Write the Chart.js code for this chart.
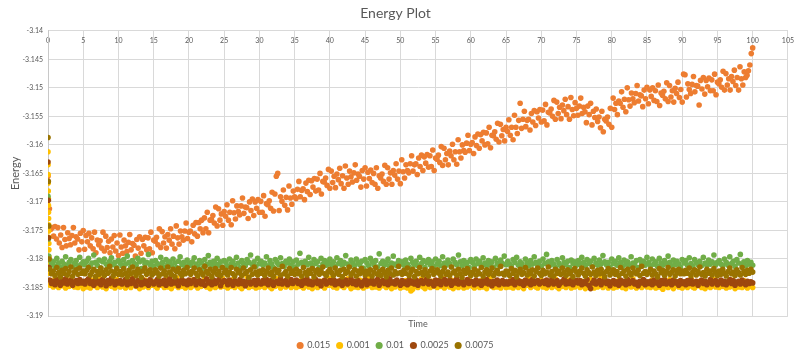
<!DOCTYPE html>
<html>
<head>
<meta charset="utf-8">
<script src="https://cdn.jsdelivr.net/npm/chart.js@4/dist/chart.umd.min.js"></script>
<style>
html,body{margin:0;padding:0;background:#fff;}
canvas{display:block;}
</style>
</head>
<body>
<canvas id="c" width="800" height="355"></canvas>
<script>
// ---- data ----
const seriesNames = ['0.015', '0.001', '0.01', '0.0025', '0.0075'];
const xTicks = { min: 0, max: 105, step: 5 };
const yTicks = { min: -3.19, max: -3.14, step: 0.005 };

// 0.015 series: first point at t=0, then every 0.2 time units
const orangeHeadTimes = [0];
const orangeHead = [-3.1655];
const orangeStep = 0.2;
const orangeValues = [
-3.1712,-3.1748,-3.1745,-3.1760,-3.1743, -3.1765,-3.1745,-3.1772,-3.1758,-3.1780, -3.1745,-3.1766,-3.1777,-3.1754,-3.1764, -3.1775,-3.1759,-3.1745,-3.1772,-3.1761, -3.1765,-3.1784,-3.1755,-3.1770,-3.1750,
-3.1783,-3.1759,-3.1770,-3.1755,-3.1777, -3.1763,-3.1782,-3.1753,-3.1789,-3.1767, -3.1775,-3.1768,-3.1781,-3.1753,-3.1786, -3.1760,-3.1780,-3.1769,-3.1789,-3.1765, -3.1779,-3.1759,-3.1786,-3.1772,-3.1794,
-3.1758,-3.1779,-3.1790,-3.1767,-3.1777, -3.1787,-3.1771,-3.1757,-3.1784,-3.1773, -3.1776,-3.1795,-3.1766,-3.1781,-3.1761, -3.1790,-3.1766,-3.1777,-3.1762,-3.1784, -3.1763,-3.1782,-3.1753,-3.1789,-3.1767,
-3.1769,-3.1762,-3.1775,-3.1747,-3.1780, -3.1752,-3.1772,-3.1761,-3.1781,-3.1757, -3.1767,-3.1747,-3.1774,-3.1760,-3.1782, -3.1742,-3.1763,-3.1774,-3.1751,-3.1761, -3.1767,-3.1751,-3.1737,-3.1764,-3.1753,
-3.1751,-3.1770,-3.1741,-3.1756,-3.1736, -3.1760,-3.1736,-3.1747,-3.1732,-3.1754, -3.1728,-3.1747,-3.1718,-3.1754,-3.1732, -3.1731,-3.1724,-3.1737,-3.1709,-3.1742, -3.1712,-3.1732,-3.1721,-3.1741,-3.1717,
-3.1725,-3.1705,-3.1732,-3.1718,-3.1740, -3.1698,-3.1719,-3.1730,-3.1707,-3.1717, -3.1723,-3.1707,-3.1693,-3.1720,-3.1709, -3.1710,-3.1729,-3.1700,-3.1715,-3.1695, -3.1724,-3.1700,-3.1711,-3.1696,-3.1718,
-3.1699,-3.1718,-3.1689,-3.1725,-3.1703, -3.1705,-3.1698,-3.1711,-3.1683,-3.1716, -3.1686,-3.1655,-3.1650,-3.1715,-3.1691, -3.1699,-3.1679,-3.1706,-3.1692,-3.1714, -3.1672,-3.1693,-3.1704,-3.1681,-3.1691,
-3.1694,-3.1678,-3.1664,-3.1691,-3.1680, -3.1677,-3.1696,-3.1667,-3.1682,-3.1662, -3.1687,-3.1663,-3.1674,-3.1659,-3.1681, -3.1660,-3.1679,-3.1650,-3.1686,-3.1664, -3.1665,-3.1658,-3.1671,-3.1643,-3.1676,
-3.1646,-3.1666,-3.1655,-3.1675,-3.1651, -3.1661,-3.1641,-3.1668,-3.1654,-3.1676, -3.1637,-3.1658,-3.1669,-3.1646,-3.1656, -3.1665,-3.1649,-3.1635,-3.1662,-3.1651, -3.1655,-3.1674,-3.1645,-3.1660,-3.1640,
-3.1672,-3.1648,-3.1659,-3.1644,-3.1666, -3.1650,-3.1669,-3.1640,-3.1676,-3.1654, -3.1658,-3.1651,-3.1664,-3.1636,-3.1669, -3.1640,-3.1660,-3.1649,-3.1669,-3.1645, -3.1653,-3.1633,-3.1660,-3.1646,-3.1668,
-3.1626,-3.1647,-3.1658,-3.1635,-3.1645, -3.1649,-3.1633,-3.1619,-3.1646,-3.1635, -3.1633,-3.1652,-3.1623,-3.1638,-3.1618, -3.1645,-3.1621,-3.1632,-3.1617,-3.1639, -3.1619,-3.1638,-3.1609,-3.1645,-3.1623,
-3.1625,-3.1618,-3.1631,-3.1603,-3.1636, -3.1606,-3.1626,-3.1615,-3.1635,-3.1611, -3.1619,-3.1599,-3.1626,-3.1612,-3.1634, -3.1591,-3.1612,-3.1623,-3.1600,-3.1610, -3.1613,-3.1597,-3.1583,-3.1610,-3.1599,
-3.1596,-3.1615,-3.1586,-3.1601,-3.1581, -3.1606,-3.1582,-3.1593,-3.1578,-3.1600, -3.1579,-3.1598,-3.1569,-3.1605,-3.1583, -3.1584,-3.1577,-3.1590,-3.1562,-3.1595, -3.1564,-3.1584,-3.1573,-3.1593,-3.1569,
-3.1576,-3.1556,-3.1583,-3.1569,-3.1591, -3.1548,-3.1569,-3.1580,-3.1557,-3.1527, -3.1571,-3.1555,-3.1541,-3.1568,-3.1557, -3.1555,-3.1574,-3.1545,-3.1560,-3.1540, -3.1566,-3.1542,-3.1553,-3.1538,-3.1560,
-3.1539,-3.1558,-3.1529,-3.1565,-3.1543, -3.1544,-3.1537,-3.1550,-3.1522,-3.1555, -3.1525,-3.1545,-3.1534,-3.1554,-3.1530, -3.1540,-3.1520,-3.1547,-3.1533,-3.1555, -3.1517,-3.1538,-3.1549,-3.1526,-3.1536,
-3.1548,-3.1532,-3.1518,-3.1545,-3.1534, -3.1542,-3.1561,-3.1532,-3.1547,-3.1527, -3.1565,-3.1541,-3.1552,-3.1537,-3.1559, -3.1551,-3.1570,-3.1541,-3.1577,-3.1555, -3.1558,-3.1551,-3.1564,-3.1536,-3.1569,
-3.1518,-3.1538,-3.1527,-3.1547,-3.1523, -3.1527,-3.1507,-3.1534,-3.1520,-3.1542, -3.1500,-3.1521,-3.1532,-3.1509,-3.1519, -3.1526,-3.1510,-3.1496,-3.1523,-3.1512, -3.1514,-3.1533,-3.1504,-3.1519,-3.1499,
-3.1528,-3.1504,-3.1515,-3.1500,-3.1522, -3.1505,-3.1524,-3.1495,-3.1531,-3.1509, -3.1513,-3.1506,-3.1519,-3.1491,-3.1524, -3.1496,-3.1516,-3.1505,-3.1525,-3.1501, -3.1510,-3.1490,-3.1517,-3.1503,-3.1525,
-3.1476,-3.1477,-3.1516,-3.1493,-3.1503, -3.1510,-3.1494,-3.1480,-3.1507,-3.1496, -3.1497,-3.1530,-3.1487,-3.1502,-3.1482, -3.1511,-3.1487,-3.1498,-3.1483,-3.1505, -3.1486,-3.1505,-3.1476,-3.1512,-3.1490,
-3.1493,-3.1486,-3.1499,-3.1471,-3.1504, -3.1475,-3.1495,-3.1484,-3.1504,-3.1480, -3.1489,-3.1469,-3.1496,-3.1482,-3.1504, -3.1463,-3.1484,-3.1495,-3.1472,-3.1482, -3.1478,-3.1470,-3.1460,-3.1440,-3.1430
];

// dense series: start-up points near t=0, then every 0.25 time units
const bandStep = 0.25;

const goldHeadTimes = [0,0.01,0.02,0.03,0.04,0.05,0.06,0.07,0.08,0.09,0.1,0.11,0.12,0.13,0.14,0.15,0.16];
const goldHead = [-3.1612,-3.1635,-3.1652,-3.1667,-3.1681,-3.1694,-3.1706,-3.1718,-3.1729,-3.1740,-3.1751,-3.1762,-3.1773,-3.1784,-3.1796,-3.1810,-3.1825];
const goldValues = [
-3.1846,-3.1840,-3.1849,-3.1835,-3.1844,-3.1850,-3.1841,-3.1847,-3.1838,-3.1851,-3.1843,-3.1848,-3.1836,-3.1845,-3.1849,-3.1842,-3.1850,-3.1839,-3.1846,-3.1852,
-3.1844,-3.1849,-3.1841,-3.1851,-3.1837,-3.1847,-3.1843,-3.1850,-3.1832,-3.1846,-3.1849,-3.1840,-3.1852,-3.1845,-3.1838,-3.1848,-3.1843,-3.1851,-3.1836,-3.1847,
-3.1849,-3.1842,-3.1847,-3.1851,-3.1839,-3.1846,-3.1850,-3.1834,-3.1845,-3.1848,-3.1841,-3.1852,-3.1844,-3.1849,-3.1837,-3.1847,-3.1850,-3.1843,-3.1846,-3.1840,
-3.1848,-3.1851,-3.1838,-3.1846,-3.1843,-3.1850,-3.1836,-3.1849,-3.1845,-3.1852,-3.1841,-3.1847,-3.1833,-3.1850,-3.1844,-3.1848,-3.1839,-3.1851,-3.1846,-3.1842,
-3.1850,-3.1837,-3.1847,-3.1844,-3.1851,-3.1840,-3.1848,-3.1846,-3.1835,-3.1849,-3.1843,-3.1852,-3.1838,-3.1847,-3.1850,-3.1845,-3.1841,-3.1849,-3.1834,-3.1848,
-3.1845,-3.1851,-3.1842,-3.1848,-3.1836,-3.1850,-3.1846,-3.1839,-3.1849,-3.1852,-3.1843,-3.1847,-3.1831,-3.1850,-3.1845,-3.1848,-3.1840,-3.1851,-3.1844,-3.1849,
-3.1847,-3.1841,-3.1850,-3.1845,-3.1838,-3.1849,-3.1852,-3.1843,-3.1848,-3.1835,-3.1846,-3.1851,-3.1840,-3.1847,-3.1849,-3.1833,-3.1845,-3.1850,-3.1842,-3.1848,
-3.1850,-3.1844,-3.1848,-3.1837,-3.1851,-3.1846,-3.1840,-3.1849,-3.1843,-3.1852,-3.1836,-3.1847,-3.1850,-3.1845,-3.1839,-3.1848,-3.1851,-3.1842,-3.1846,-3.1834,
-3.1846,-3.1849,-3.1841,-3.1851,-3.1845,-3.1838,-3.1848,-3.1850,-3.1843,-3.1835,-3.1847,-3.1852,-3.1840,-3.1849,-3.1844,-3.1850,-3.1837,-3.1846,-3.1851,-3.1842,
-3.1848,-3.1833,-3.1846,-3.1850,-3.1842,-3.1849,-3.1845,-3.1851,-3.1839,-3.1847,-3.1843,-3.1850,-3.1836,-3.1848,-3.1852,-3.1844,-3.1849,-3.1840,-3.1846,-3.1851,
-3.1843,-3.1849,-3.1838,-3.1851,-3.1846,-3.1856,-3.1853,-3.1848,-3.1841,-3.1850,-3.1845,-3.1835,-3.1849,-3.1852,-3.1843,-3.1847,-3.1850,-3.1839,-3.1848,-3.1844,
-3.1850,-3.1845,-3.1848,-3.1834,-3.1851,-3.1846,-3.1842,-3.1849,-3.1837,-3.1852,-3.1844,-3.1848,-3.1850,-3.1840,-3.1847,-3.1851,-3.1843,-3.1849,-3.1836,-3.1846,
-3.1848,-3.1851,-3.1841,-3.1847,-3.1850,-3.1838,-3.1849,-3.1845,-3.1852,-3.1843,-3.1832,-3.1848,-3.1850,-3.1844,-3.1849,-3.1840,-3.1851,-3.1846,-3.1842,-3.1850,
-3.1845,-3.1849,-3.1836,-3.1851,-3.1847,-3.1843,-3.1850,-3.1839,-3.1848,-3.1852,-3.1844,-3.1846,-3.1834,-3.1850,-3.1847,-3.1841,-3.1849,-3.1851,-3.1845,-3.1838,
-3.1849,-3.1843,-3.1851,-3.1846,-3.1840,-3.1850,-3.1847,-3.1835,-3.1849,-3.1852,-3.1844,-3.1848,-3.1841,-3.1850,-3.1846,-3.1837,-3.1851,-3.1845,-3.1849,-3.1843,
-3.1846,-3.1850,-3.1839,-3.1848,-3.1852,-3.1844,-3.1849,-3.1836,-3.1847,-3.1851,-3.1842,-3.1849,-3.1845,-3.1833,-3.1850,-3.1847,-3.1843,-3.1851,-3.1840,-3.1848,
-3.1851,-3.1845,-3.1849,-3.1838,-3.1847,-3.1850,-3.1843,-3.1852,-3.1846,-3.1840,-3.1849,-3.1835,-3.1848,-3.1851,-3.1844,-3.1847,-3.1850,-3.1839,-3.1846,-3.1849,
-3.1844,-3.1850,-3.1837,-3.1848,-3.1851,-3.1845,-3.1849,-3.1841,-3.1853,-3.1847,-3.1843,-3.1850,-3.1836,-3.1848,-3.1852,-3.1845,-3.1840,-3.1849,-3.1846,-3.1851,
-3.1848,-3.1842,-3.1850,-3.1846,-3.1834,-3.1849,-3.1851,-3.1844,-3.1847,-3.1839,-3.1850,-3.1845,-3.1852,-3.1841,-3.1848,-3.1850,-3.1843,-3.1836,-3.1849,-3.1846,
-3.1850,-3.1844,-3.1848,-3.1840,-3.1851,-3.1846,-3.1849,-3.1837,-3.1847,-3.1852,-3.1843,-3.1849,-3.1845,-3.1850,-3.1838,-3.1848,-3.1851,-3.1844,-3.1847,-3.1850
];

const greenHeadTimes = [0, 0.05, 0.1];
const greenHead = [-3.1690, -3.1765, -3.1795];
const greenValues = [
-3.1802,-3.1810,-3.1805,-3.1813,-3.1799,-3.1807,-3.1815,-3.1804,-3.1809,-3.1796,-3.1811,-3.1806,-3.1801,-3.1814,-3.1808,-3.1803,-3.1812,-3.1797,-3.1809,-3.1805,
-3.1810,-3.1804,-3.1799,-3.1812,-3.1807,-3.1793,-3.1806,-3.1811,-3.1802,-3.1816,-3.1805,-3.1800,-3.1809,-3.1813,-3.1804,-3.1798,-3.1810,-3.1806,-3.1815,-3.1803,
-3.1807,-3.1812,-3.1801,-3.1809,-3.1795,-3.1806,-3.1814,-3.1803,-3.1808,-3.1811,-3.1799,-3.1805,-3.1817,-3.1802,-3.1809,-3.1806,-3.1792,-3.1810,-3.1804,-3.1813,
-3.1803,-3.1808,-3.1811,-3.1797,-3.1806,-3.1814,-3.1801,-3.1809,-3.1805,-3.1812,-3.1800,-3.1807,-3.1815,-3.1804,-3.1796,-3.1810,-3.1806,-3.1813,-3.1802,-3.1808,
-3.1811,-3.1805,-3.1798,-3.1809,-3.1813,-3.1803,-3.1807,-3.1816,-3.1801,-3.1810,-3.1794,-3.1806,-3.1812,-3.1804,-3.1808,-3.1799,-3.1811,-3.1805,-3.1814,-3.1803,
-3.1806,-3.1813,-3.1800,-3.1809,-3.1804,-3.1811,-3.1797,-3.1807,-3.1815,-3.1803,-3.1808,-3.1812,-3.1801,-3.1806,-3.1793,-3.1810,-3.1805,-3.1813,-3.1799,-3.1808,
-3.1804,-3.1811,-3.1807,-3.1796,-3.1812,-3.1803,-3.1809,-3.1815,-3.1801,-3.1806,-3.1810,-3.1798,-3.1808,-3.1813,-3.1804,-3.1807,-3.1800,-3.1811,-3.1805,-3.1814,
-3.1802,-3.1809,-3.1790,-3.1806,-3.1812,-3.1804,-3.1810,-3.1797,-3.1807,-3.1813,-3.1801,-3.1808,-3.1805,-3.1815,-3.1799,-3.1809,-3.1803,-3.1811,-3.1806,-3.1800,
-3.1810,-3.1805,-3.1813,-3.1798,-3.1808,-3.1803,-3.1811,-3.1806,-3.1794,-3.1809,-3.1814,-3.1802,-3.1807,-3.1812,-3.1800,-3.1806,-3.1810,-3.1804,-3.1816,-3.1801,
-3.1807,-3.1812,-3.1799,-3.1805,-3.1810,-3.1803,-3.1814,-3.1791,-3.1808,-3.1804,-3.1811,-3.1806,-3.1800,-3.1813,-3.1807,-3.1795,-3.1809,-3.1812,-3.1803,-3.1808,
-3.1805,-3.1811,-3.1802,-3.1809,-3.1814,-3.1799,-3.1806,-3.1810,-3.1804,-3.1812,-3.1797,-3.1808,-3.1803,-3.1815,-3.1806,-3.1801,-3.1810,-3.1805,-3.1813,-3.1800,
-3.1809,-3.1804,-3.1812,-3.1796,-3.1807,-3.1811,-3.1802,-3.1808,-3.1814,-3.1800,-3.1806,-3.1810,-3.1793,-3.1805,-3.1812,-3.1803,-3.1809,-3.1806,-3.1815,-3.1801,
-3.1806,-3.1813,-3.1800,-3.1808,-3.1804,-3.1811,-3.1798,-3.1807,-3.1812,-3.1803,-3.1809,-3.1805,-3.1814,-3.1799,-3.1807,-3.1811,-3.1802,-3.1808,-3.1795,-3.1810,
-3.1804,-3.1809,-3.1813,-3.1801,-3.1806,-3.1797,-3.1811,-3.1805,-3.1808,-3.1814,-3.1800,-3.1807,-3.1812,-3.1803,-3.1809,-3.1796,-3.1806,-3.1811,-3.1804,-3.1813,
-3.1800,-3.1808,-3.1792,-3.1805,-3.1811,-3.1803,-3.1809,-3.1814,-3.1801,-3.1807,-3.1812,-3.1798,-3.1806,-3.1810,-3.1804,-3.1815,-3.1802,-3.1808,-3.1805,-3.1811,
-3.1803,-3.1809,-3.1797,-3.1806,-3.1812,-3.1801,-3.1808,-3.1804,-3.1813,-3.1799,-3.1807,-3.1811,-3.1802,-3.1809,-3.1794,-3.1805,-3.1810,-3.1806,-3.1814,-3.1800,
-3.1808,-3.1804,-3.1811,-3.1798,-3.1806,-3.1813,-3.1802,-3.1809,-3.1805,-3.1812,-3.1796,-3.1807,-3.1810,-3.1803,-3.1815,-3.1801,-3.1808,-3.1804,-3.1811,-3.1797,
-3.1806,-3.1812,-3.1800,-3.1809,-3.1805,-3.1813,-3.1799,-3.1807,-3.1811,-3.1803,-3.1808,-3.1795,-3.1806,-3.1812,-3.1802,-3.1810,-3.1804,-3.1809,-3.1814,-3.1801,
-3.1807,-3.1803,-3.1811,-3.1798,-3.1808,-3.1813,-3.1801,-3.1806,-3.1810,-3.1804,-3.1812,-3.1797,-3.1807,-3.1811,-3.1802,-3.1809,-3.1805,-3.1793,-3.1810,-3.1806,
-3.1803,-3.1809,-3.1812,-3.1800,-3.1806,-3.1811,-3.1796,-3.1808,-3.1804,-3.1813,-3.1801,-3.1807,-3.1792,-3.1810,-3.1805,-3.1812,-3.1803,-3.1809,-3.1806,-3.1811
];

const brownHeadTimes = [0, 0.05, 0.1, 0.15];
const brownHead = [-3.1630, -3.1697, -3.1763, -3.1815];
const brownValues = [
-3.1837,-3.1843,-3.1839,-3.1845,-3.1836,-3.1841,-3.1846,-3.1838,-3.1842,-3.1835,-3.1844,-3.1840,-3.1837,-3.1846,-3.1841,-3.1838,-3.1843,-3.1836,-3.1842,-3.1839,
-3.1844,-3.1838,-3.1835,-3.1843,-3.1840,-3.1846,-3.1837,-3.1842,-3.1839,-3.1845,-3.1836,-3.1841,-3.1847,-3.1838,-3.1843,-3.1834,-3.1840,-3.1845,-3.1839,-3.1842,
-3.1838,-3.1844,-3.1841,-3.1836,-3.1845,-3.1839,-3.1843,-3.1835,-3.1842,-3.1847,-3.1838,-3.1840,-3.1845,-3.1837,-3.1843,-3.1839,-3.1846,-3.1836,-3.1841,-3.1844,
-3.1840,-3.1836,-3.1845,-3.1839,-3.1843,-3.1837,-3.1846,-3.1841,-3.1835,-3.1844,-3.1839,-3.1842,-3.1838,-3.1847,-3.1840,-3.1836,-3.1843,-3.1839,-3.1845,-3.1837,
-3.1843,-3.1839,-3.1836,-3.1845,-3.1841,-3.1838,-3.1844,-3.1840,-3.1846,-3.1835,-3.1842,-3.1839,-3.1845,-3.1837,-3.1843,-3.1840,-3.1836,-3.1847,-3.1841,-3.1838,
-3.1839,-3.1845,-3.1837,-3.1842,-3.1846,-3.1838,-3.1841,-3.1844,-3.1836,-3.1843,-3.1839,-3.1847,-3.1840,-3.1835,-3.1844,-3.1841,-3.1838,-3.1845,-3.1837,-3.1842,
-3.1844,-3.1838,-3.1842,-3.1836,-3.1845,-3.1840,-3.1837,-3.1846,-3.1841,-3.1839,-3.1843,-3.1835,-3.1844,-3.1840,-3.1838,-3.1845,-3.1842,-3.1836,-3.1843,-3.1839,
-3.1837,-3.1843,-3.1840,-3.1846,-3.1838,-3.1842,-3.1835,-3.1844,-3.1839,-3.1845,-3.1841,-3.1836,-3.1843,-3.1839,-3.1847,-3.1840,-3.1837,-3.1844,-3.1841,-3.1838,
-3.1842,-3.1836,-3.1845,-3.1839,-3.1843,-3.1838,-3.1846,-3.1840,-3.1837,-3.1844,-3.1841,-3.1835,-3.1843,-3.1839,-3.1845,-3.1838,-3.1842,-3.1847,-3.1840,-3.1836,
-3.1845,-3.1839,-3.1842,-3.1837,-3.1844,-3.1840,-3.1836,-3.1846,-3.1841,-3.1838,-3.1843,-3.1839,-3.1845,-3.1835,-3.1842,-3.1840,-3.1844,-3.1837,-3.1841,-3.1846,
-3.1838,-3.1843,-3.1840,-3.1845,-3.1836,-3.1842,-3.1839,-3.1844,-3.1837,-3.1846,-3.1841,-3.1838,-3.1843,-3.1840,-3.1835,-3.1844,-3.1839,-3.1842,-3.1847,-3.1837,
-3.1843,-3.1838,-3.1845,-3.1840,-3.1836,-3.1844,-3.1841,-3.1837,-3.1846,-3.1839,-3.1842,-3.1835,-3.1844,-3.1840,-3.1838,-3.1845,-3.1841,-3.1836,-3.1843,-3.1839,
-3.1840,-3.1845,-3.1837,-3.1843,-3.1839,-3.1846,-3.1838,-3.1842,-3.1836,-3.1844,-3.1840,-3.1847,-3.1839,-3.1843,-3.1837,-3.1845,-3.1841,-3.1838,-3.1844,-3.1840,
-3.1844,-3.1839,-3.1842,-3.1836,-3.1845,-3.1841,-3.1838,-3.1843,-3.1840,-3.1846,-3.1837,-3.1842,-3.1839,-3.1845,-3.1836,-3.1843,-3.1840,-3.1838,-3.1844,-3.1841,
-3.1839,-3.1843,-3.1837,-3.1845,-3.1840,-3.1836,-3.1844,-3.1841,-3.1838,-3.1846,-3.1842,-3.1839,-3.1835,-3.1844,-3.1840,-3.1843,-3.1837,-3.1845,-3.1841,-3.1838,
-3.1842,-3.1838,-3.1845,-3.1840,-3.1843,-3.1836,-3.1846,-3.1852,-3.1842,-3.1837,-3.1844,-3.1841,-3.1838,-3.1845,-3.1840,-3.1836,-3.1843,-3.1839,-3.1847,-3.1841,
-3.1838,-3.1844,-3.1840,-3.1846,-3.1837,-3.1842,-3.1839,-3.1845,-3.1836,-3.1843,-3.1840,-3.1838,-3.1844,-3.1841,-3.1847,-3.1839,-3.1842,-3.1836,-3.1845,-3.1840,
-3.1843,-3.1839,-3.1845,-3.1837,-3.1842,-3.1840,-3.1846,-3.1838,-3.1843,-3.1836,-3.1844,-3.1841,-3.1839,-3.1845,-3.1837,-3.1842,-3.1840,-3.1846,-3.1838,-3.1843,
-3.1840,-3.1845,-3.1838,-3.1843,-3.1836,-3.1844,-3.1841,-3.1839,-3.1846,-3.1840,-3.1837,-3.1843,-3.1839,-3.1845,-3.1841,-3.1836,-3.1844,-3.1840,-3.1838,-3.1845,
-3.1841,-3.1837,-3.1844,-3.1839,-3.1845,-3.1840,-3.1836,-3.1843,-3.1838,-3.1846,-3.1841,-3.1839,-3.1844,-3.1837,-3.1842,-3.1845,-3.1839,-3.1843,-3.1840,-3.1842
];

const oliveHeadTimes = [0, 0.05, 0.1, 0.15];
const oliveHead = [-3.1587, -3.1664, -3.1742, -3.1800];
const oliveValues = [
-3.1818,-3.1826,-3.1821,-3.1829,-3.1815,-3.1824,-3.1831,-3.1820,-3.1825,-3.1817,-3.1828,-3.1822,-3.1814,-3.1830,-3.1823,-3.1819,-3.1827,-3.1816,-3.1825,-3.1821,
-3.1826,-3.1820,-3.1815,-3.1828,-3.1823,-3.1818,-3.1831,-3.1822,-3.1827,-3.1816,-3.1824,-3.1829,-3.1819,-3.1825,-3.1813,-3.1821,-3.1830,-3.1824,-3.1817,-3.1827,
-3.1822,-3.1828,-3.1817,-3.1825,-3.1831,-3.1820,-3.1826,-3.1814,-3.1823,-3.1829,-3.1818,-3.1824,-3.1832,-3.1821,-3.1816,-3.1827,-3.1822,-3.1819,-3.1828,-3.1825,
-3.1819,-3.1824,-3.1830,-3.1816,-3.1826,-3.1821,-3.1828,-3.1814,-3.1823,-3.1827,-3.1818,-3.1831,-3.1822,-3.1817,-3.1825,-3.1829,-3.1820,-3.1826,-3.1815,-3.1823,
-3.1827,-3.1821,-3.1816,-3.1825,-3.1830,-3.1819,-3.1824,-3.1828,-3.1813,-3.1822,-3.1826,-3.1818,-3.1831,-3.1823,-3.1817,-3.1827,-3.1821,-3.1829,-3.1815,-3.1824,
-3.1820,-3.1828,-3.1823,-3.1815,-3.1826,-3.1830,-3.1818,-3.1824,-3.1821,-3.1829,-3.1816,-3.1825,-3.1822,-3.1832,-3.1819,-3.1827,-3.1814,-3.1823,-3.1828,-3.1821,
-3.1825,-3.1819,-3.1829,-3.1822,-3.1816,-3.1827,-3.1823,-3.1831,-3.1818,-3.1824,-3.1820,-3.1828,-3.1813,-3.1826,-3.1822,-3.1830,-3.1817,-3.1825,-3.1821,-3.1827,
-3.1818,-3.1826,-3.1822,-3.1830,-3.1815,-3.1824,-3.1828,-3.1820,-3.1825,-3.1817,-3.1831,-3.1823,-3.1819,-3.1827,-3.1821,-3.1814,-3.1826,-3.1829,-3.1822,-3.1818,
-3.1824,-3.1829,-3.1816,-3.1823,-3.1827,-3.1820,-3.1831,-3.1818,-3.1825,-3.1822,-3.1814,-3.1828,-3.1824,-3.1819,-3.1830,-3.1821,-3.1826,-3.1817,-3.1823,-3.1828,
-3.1821,-3.1826,-3.1819,-3.1830,-3.1823,-3.1815,-3.1827,-3.1822,-3.1829,-3.1818,-3.1824,-3.1831,-3.1820,-3.1825,-3.1816,-3.1828,-3.1822,-3.1826,-3.1813,-3.1824,
-3.1827,-3.1820,-3.1825,-3.1816,-3.1829,-3.1823,-3.1818,-3.1831,-3.1822,-3.1826,-3.1815,-3.1824,-3.1828,-3.1819,-3.1825,-3.1830,-3.1821,-3.1817,-3.1827,-3.1823,
-3.1819,-3.1825,-3.1830,-3.1822,-3.1816,-3.1827,-3.1823,-3.1829,-3.1814,-3.1824,-3.1821,-3.1828,-3.1818,-3.1826,-3.1832,-3.1820,-3.1825,-3.1817,-3.1823,-3.1829,
-3.1824,-3.1818,-3.1828,-3.1821,-3.1826,-3.1815,-3.1830,-3.1823,-3.1819,-3.1827,-3.1822,-3.1816,-3.1829,-3.1824,-3.1820,-3.1826,-3.1813,-3.1825,-3.1828,-3.1821,
-3.1822,-3.1829,-3.1817,-3.1825,-3.1820,-3.1831,-3.1823,-3.1818,-3.1827,-3.1824,-3.1815,-3.1828,-3.1821,-3.1826,-3.1819,-3.1830,-3.1822,-3.1816,-3.1825,-3.1829,
-3.1820,-3.1826,-3.1823,-3.1814,-3.1828,-3.1822,-3.1830,-3.1818,-3.1825,-3.1821,-3.1827,-3.1816,-3.1824,-3.1829,-3.1819,-3.1826,-3.1822,-3.1831,-3.1817,-3.1823,
-3.1828,-3.1821,-3.1816,-3.1825,-3.1830,-3.1819,-3.1824,-3.1827,-3.1814,-3.1823,-3.1829,-3.1820,-3.1826,-3.1818,-3.1825,-3.1831,-3.1822,-3.1817,-3.1828,-3.1824,
-3.1819,-3.1827,-3.1822,-3.1829,-3.1815,-3.1825,-3.1821,-3.1830,-3.1818,-3.1824,-3.1828,-3.1816,-3.1823,-3.1826,-3.1820,-3.1829,-3.1813,-3.1825,-3.1822,-3.1827,
-3.1823,-3.1818,-3.1828,-3.1821,-3.1826,-3.1831,-3.1817,-3.1824,-3.1820,-3.1829,-3.1822,-3.1815,-3.1827,-3.1823,-3.1819,-3.1830,-3.1824,-3.1818,-3.1826,-3.1821,
-3.1826,-3.1820,-3.1825,-3.1816,-3.1829,-3.1823,-3.1819,-3.1828,-3.1822,-3.1814,-3.1827,-3.1824,-3.1830,-3.1818,-3.1825,-3.1821,-3.1828,-3.1817,-3.1823,-3.1829,
-3.1821,-3.1827,-3.1818,-3.1825,-3.1830,-3.1822,-3.1816,-3.1826,-3.1823,-3.1829,-3.1819,-3.1824,-3.1828,-3.1815,-3.1822,-3.1827,-3.1820,-3.1825,-3.1818,-3.1823
];

// ---- styles ----
const seriesColors = ['#ED7D31', '#FFC000', '#70AD47', '#9E480E', '#997300'];
const textColor = '#595959';
const gridColor = '#d9d9d9';
const fontFamily = 'Lato, "Open Sans", "Liberation Sans", sans-serif';

function toPoints(headTimes, head, values, step) {
  const pts = head.map((v, i) => ({ x: headTimes[i], y: v }));
  values.forEach((v, i) => pts.push({ x: +((i + 1) * step).toFixed(2), y: v }));
  return pts;
}

const seriesData = [
  toPoints(orangeHeadTimes, orangeHead, orangeValues, orangeStep),
  toPoints(goldHeadTimes, goldHead, goldValues, bandStep),
  toPoints(greenHeadTimes, greenHead, greenValues, bandStep),
  toPoints(brownHeadTimes, brownHead, brownValues, bandStep),
  toPoints(oliveHeadTimes, oliveHead, oliveValues, bandStep)
];

const datasets = seriesNames.map((name, i) => ({
  label: name,
  data: seriesData[i],
  backgroundColor: seriesColors[i],
  borderColor: seriesColors[i],
  borderWidth: 0,
  pointRadius: 2.8,
  pointHoverRadius: 2.8,
  showLine: false,
  order: seriesNames.length - 1 - i   // later series drawn on top, like the original
}));

const legendShift = {
  id: 'legendShift',
  afterLayout(chart) {
    const l = chart.legend;
    if (l) { l.top += 5; l.bottom += 5; }
  }
};

new Chart(document.getElementById('c'), {
  type: 'scatter',
  data: { datasets },
  plugins: [legendShift],
  options: {
    responsive: false,
    animation: false,
    events: [],
    layout: { padding: { left: 0, right: 9, top: 0, bottom: 0 } },
    plugins: {
      title: {
        display: true,
        text: 'Energy Plot',
        color: textColor,
        font: { family: fontFamily, size: 14, weight: 'normal' },
        padding: { top: 5, bottom: 0 }
      },
      legend: {
        display: true,
        position: 'bottom',
        labels: {
          color: textColor,
          font: { family: fontFamily, size: 9 },
          usePointStyle: true,
          pointStyle: 'circle',
          boxWidth: 5,
          boxHeight: 5,
          padding: 7,
          sort: (a, b) => a.datasetIndex - b.datasetIndex
        }
      },
      tooltip: { enabled: false }
    },
    scales: {
      x: {
        type: 'linear',
        position: 'top',
        min: xTicks.min,
        max: xTicks.max,
        ticks: {
          stepSize: xTicks.step,
          color: textColor,
          font: { family: fontFamily, size: 7 },
          mirror: true,
          padding: 6,
          maxRotation: 0,
          autoSkip: false
        },
        grid: { color: gridColor, drawTicks: false, lineWidth: 1 },
        border: { color: gridColor },
        afterFit: (s) => { s.height = 9; }
      },
      xTitle: {
        type: 'linear',
        position: 'bottom',
        min: xTicks.min,
        max: xTicks.max,
        ticks: { display: false },
        grid: { display: false, drawTicks: false },
        border: { display: false },
        title: {
          display: true,
          text: 'Time',
          color: textColor,
          font: { family: fontFamily, size: 9 },
          padding: { top: 1, bottom: 0 }
        },
        afterFit: (s) => { s.height = 13; }
      },
      y: {
        type: 'linear',
        min: yTicks.min,
        max: yTicks.max,
        ticks: {
          stepSize: yTicks.step,
          color: textColor,
          font: { family: fontFamily, size: 7 },
          padding: 5,
          callback: (v) => String(Number(v.toFixed(3)))
        },
        grid: { color: gridColor, drawTicks: false, lineWidth: 1 },
        border: { color: '#c8c8c8' },
        title: {
          display: true,
          text: 'Energy',
          color: textColor,
          font: { family: fontFamily, size: 11 },
          padding: { top: 9, bottom: 0 }
        },
        afterFit: (s) => { s.width = 48; }
      }
    }
  }
});
</script>
</body>
</html>
